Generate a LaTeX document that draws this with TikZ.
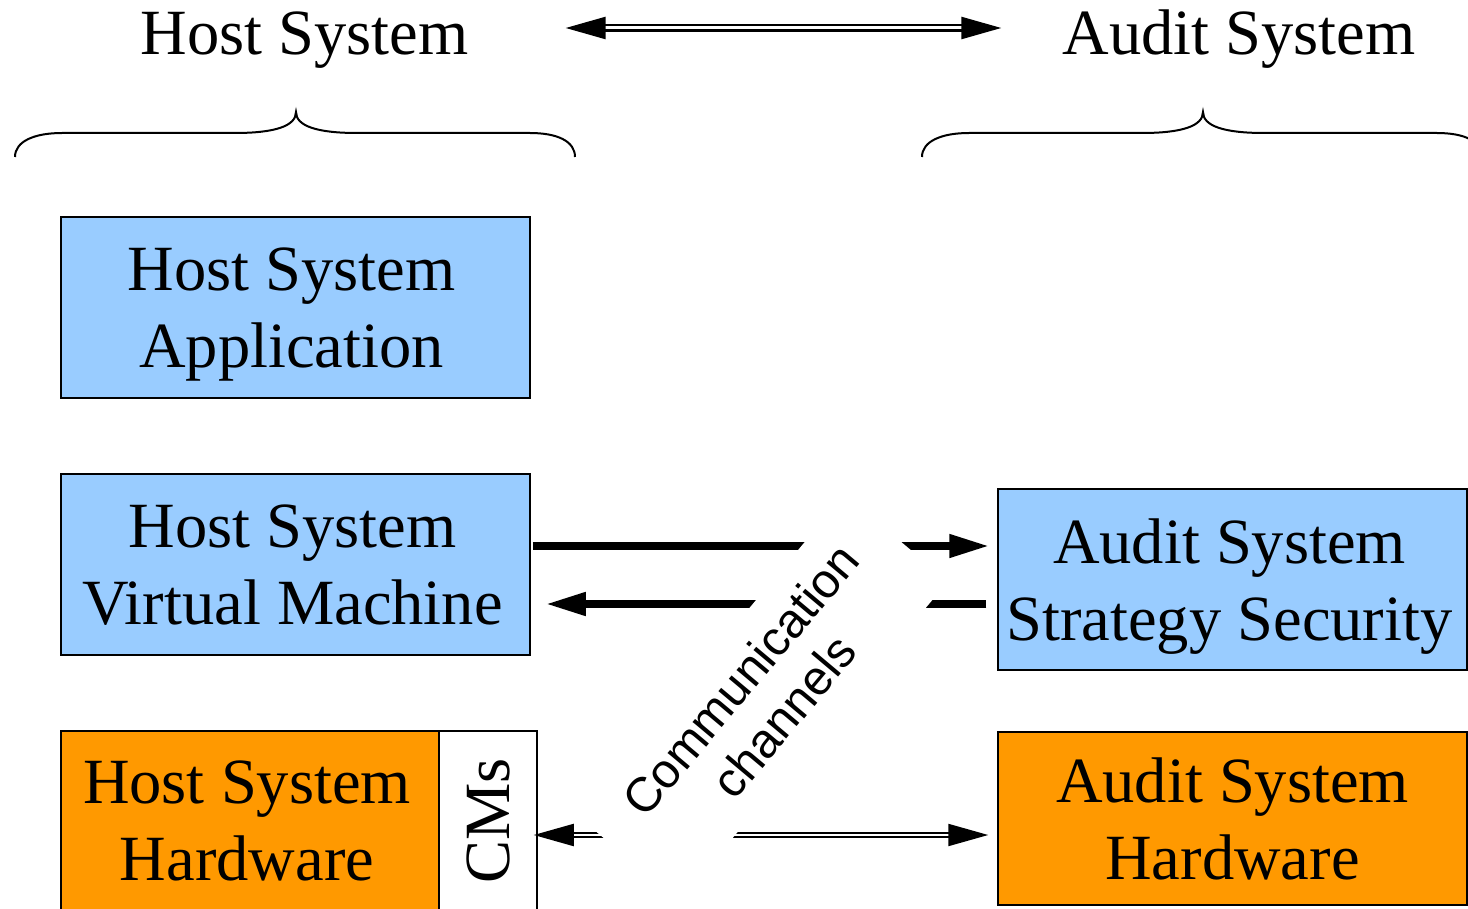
\documentclass[tikz,border=0pt]{standalone}
\usepackage{fontspec}
\setmainfont{Liberation Serif}
\newfontfamily\chansans{Liberation Sans}
\usetikzlibrary{arrows.meta}
\definecolor{layerblue}{HTML}{99CCFF}
\definecolor{hworange}{HTML}{FF9900}
\tikzset{
  big/.style={font=\fontsize{64.5}{77}\selectfont},
  layerbox/.style={draw, line width=1.5pt, minimum width=469pt, minimum height=181pt,
    align=center, inner sep=0pt, text depth=0pt, big},
  title/.style={big, inner sep=0pt, anchor=base},
  bracepath/.style={line width=2pt},
  bigtip/.tip={Triangle[length=40pt,width=22pt]},
  thickarrow/.style={line width=7.5pt, -bigtip},
  dblarrow/.style={line width=2.5pt, double, double distance=3pt},
  thindbl/.style={line width=2pt, double, double distance=2.5pt},
  chanlabel/.style={rotate=50, fill=white, minimum width=418pt, minimum height=135pt,
    align=center, inner sep=0pt, font=\chansans\fontsize{48.5}{57}\selectfont}
}
\begin{document}
\begin{tikzpicture}[x=1pt, y=-1pt]
\useasboundingbox (0,0) rectangle (1468,909);

% column titles
\node[title] (hostTitle) at (304.5,55) {Host System};
\node[title] (auditTitle) at (1239,55) {Audit System};
\coordinate (toprow) at (0,28);
\draw[dblarrow, bigtip-bigtip, shorten <=97pt, shorten >=61pt]
  (hostTitle.east |- toprow) -- (auditTitle.west |- toprow);

% braces under the titles
\foreach \dx in {0,907} {
  \begin{scope}[shift={(\dx,0)}]
    \draw[bracepath] (15,157) .. controls (15,141) and (35,133) .. (62,133) -- (235,133)
      .. controls (275,133) and (296,126) .. (296,112)
      .. controls (296,126) and (317,133) .. (357,133) -- (530,133)
      .. controls (557,133) and (575,141) .. (575,157);
  \end{scope}
}

% layers
\node[layerbox, fill=layerblue] (app) at (295.5,307.5) {Host System\hspace*{8pt}\\Application\hspace*{8pt}};
\node[layerbox, fill=layerblue] (vm) at (295.5,564.5) {Host System\hspace*{6pt}\\Virtual Machine\hspace*{6pt}};
\node[layerbox, fill=layerblue] (strategy) at (1232.5,579.5) {Audit System\hspace*{6pt}\\Strategy Security\hspace*{6pt}};
\node[layerbox, fill=hworange, minimum width=378pt, minimum height=180pt] (hosthw) at (250,821) {Host System\hspace*{6pt}\\Hardware\hspace*{6pt}};
\node[draw, line width=1.5pt, fill=white, rotate=90, minimum width=180pt, minimum height=98pt,
  inner sep=0pt, big] (cms) at (488,821) {CMs};
\node[layerbox, fill=hworange, minimum height=173pt] (audithw) at (1232.5,818.5) {Audit System\\Hardware};

% communication channels
\coordinate (rowA) at (0,546);
\coordinate (rowB) at (0,604);
\coordinate (rowC) at (0,835);
\draw[thickarrow, shorten <=2pt, shorten >=8pt] (vm.east |- rowA) -- (strategy.west |- rowA);
\draw[thickarrow, shorten <=11pt, shorten >=15pt] (strategy.west |- rowB) -- (vm.east |- rowB);
\draw[thindbl, bigtip-bigtip, shorten <=-4pt, shorten >=9pt] (cms.south |- rowC) -- (audithw.west |- rowC);

\node[chanlabel] (chan) at (762,698) {Communication\\channels};
\end{tikzpicture}
\end{document}
